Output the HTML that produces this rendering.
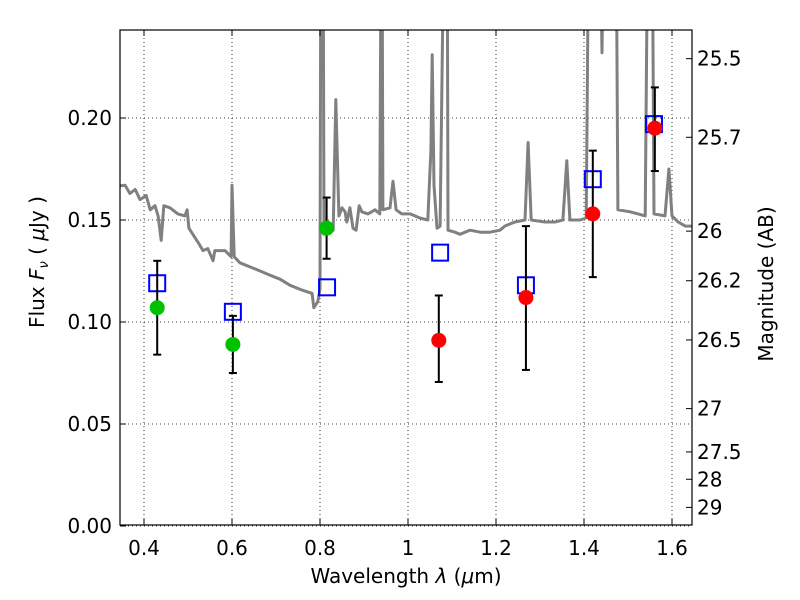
<!DOCTYPE html>
<html><head><meta charset="utf-8"><style>
html,body{margin:0;padding:0;background:#fff;}
svg{display:block;font-family:"DejaVu Sans","Liberation Sans",sans-serif;}
</style></head><body>
<svg id="chart" width="800" height="600" xmlns="http://www.w3.org/2000/svg"></svg>
<script>
const specLam=[0.345,0.357,0.368,0.380,0.391,0.405,0.414,0.425,0.432,0.439,0.445,0.459,0.477,0.493,0.498,0.502,0.523,0.534,0.545,0.557,0.561,0.584,0.598,0.600,0.605,0.618,0.641,0.664,0.686,0.709,0.732,0.755,0.782,0.786,0.795,0.800,0.802,0.807,0.809,0.816,0.823,0.830,0.836,0.843,0.850,0.857,0.861,0.868,0.875,0.882,0.889,0.895,0.909,0.925,0.936,0.939,0.941,0.943,0.959,0.966,0.973,0.986,1.005,1.027,1.045,1.052,1.055,1.059,1.066,1.073,1.082,1.089,1.091,1.107,1.118,1.141,1.164,1.186,1.209,1.220,1.243,1.266,1.273,1.280,1.311,1.334,1.352,1.361,1.368,1.391,1.405,1.411,1.436,1.441,1.445,1.473,1.477,1.505,1.539,1.545,1.555,1.559,1.584,1.593,1.600,1.614,1.630,1.645];
const specFlux=[0.1667,0.167,0.163,0.165,0.160,0.162,0.155,0.157,0.152,0.140,0.157,0.156,0.153,0.152,0.155,0.146,0.139,0.135,0.136,0.130,0.135,0.135,0.132,0.167,0.132,0.129,0.127,0.125,0.123,0.121,0.118,0.116,0.114,0.107,0.110,0.116,0.30,0.30,0.143,0.149,0.146,0.145,0.209,0.152,0.156,0.154,0.149,0.156,0.146,0.145,0.157,0.154,0.153,0.155,0.153,0.30,0.30,0.155,0.156,0.169,0.155,0.153,0.153,0.151,0.150,0.184,0.231,0.167,0.146,0.147,0.30,0.30,0.145,0.144,0.143,0.145,0.144,0.144,0.145,0.147,0.149,0.150,0.188,0.150,0.149,0.149,0.150,0.179,0.150,0.150,0.151,0.30,0.30,0.232,0.30,0.30,0.155,0.154,0.152,0.30,0.30,0.153,0.152,0.175,0.152,0.149,0.147,0.147];
const obsLam=[0.430,0.602,0.815,1.070,1.268,1.420,1.561];
const obsFlux=[0.107,0.089,0.146,0.091,0.112,0.153,0.195];
const obsHi=[0.130,0.103,0.161,0.113,0.147,0.184,0.215];
const obsLo=[0.084,0.075,0.131,0.0706,0.0765,0.122,0.174];
const obsColor=["#00c000","#00c000","#00c000","red","red","red","red"];
const modelLam=[0.430,0.602,0.816,1.073,1.268,1.420,1.559];
const modelFlux=[0.119,0.105,0.117,0.134,0.118,0.170,0.197];
const xTicks=[0.4,0.6,0.8,1.0,1.2,1.4,1.6];
const xTickLabels=["0.4","0.6","0.8","1","1.2","1.4","1.6"];
const yTicks=[0,0.05,0.10,0.15,0.20];
const yTickLabels=["0.00","0.05","0.10","0.15","0.20"];
const magTicks=[25.5,25.7,26,26.2,26.5,27,27.5,28,29];
const magTickLabels=["25.5","25.7","26","26.2","26.5","27","27.5","28","29"];

const L=120,R=692,T=30,B=525;
const X=v=>144+(v-0.4)*440;
const Y=v=>526-v*2040;
const svg=document.getElementById('chart');
const NS="http://www.w3.org/2000/svg";
function mk(tag,attrs,parent){const e=document.createElementNS(NS,tag);for(const k in attrs)e.setAttribute(k,attrs[k]);(parent||svg).appendChild(e);return e;}

const defs=mk('defs',{});
const cp=mk('clipPath',{id:'clip'},defs);
mk('rect',{x:L,y:T,width:R-L,height:B-T},cp);

const grid=mk('g',{stroke:'#000','stroke-width':0.8,'stroke-dasharray':'1,3'});


xTicks.forEach(t=>mk('line',{x1:X(t),x2:X(t),y1:T,y2:B},grid));
yTicks.forEach(t=>mk('line',{x1:L,x2:R,y1:Y(t),y2:Y(t)},grid));

const plot=mk('g',{'clip-path':'url(#clip)'});
const pts=specLam.map((l,i)=>X(l).toFixed(1)+','+Y(specFlux[i]).toFixed(1)).join(' ');
const sp=mk('polyline',{points:pts,fill:'none',stroke:'#808080','stroke-width':3,'stroke-linejoin':'round'},plot);



modelLam.forEach((l,i)=>{
  const r=mk('rect',{x:X(l)-8,y:Y(modelFlux[i])-8,width:16,height:16,fill:'none',stroke:'#0000ff','stroke-width':2},plot);
  
  
});
obsLam.forEach((l,i)=>{
  const g=mk('g',{stroke:'#000','stroke-width':2},plot);
  
  
  const x=X(l);
  mk('line',{x1:x,x2:x,y1:Y(obsHi[i]),y2:Y(obsLo[i])},g);
  mk('line',{x1:x-4,x2:x+4,y1:Y(obsHi[i]),y2:Y(obsHi[i])},g);
  mk('line',{x1:x-4,x2:x+4,y1:Y(obsLo[i]),y2:Y(obsLo[i])},g);
  const c=mk('circle',{cx:x,cy:Y(obsFlux[i]),r:7.5,fill:obsColor[i]},plot);
  
  
});

const fr=mk('rect',{x:L,y:T,width:R-L,height:B-T,fill:'none',stroke:'#000','stroke-width':1.2});



const tk=mk('g',{stroke:'#000','stroke-width':1});
xTicks.forEach(t=>{mk('line',{x1:X(t),x2:X(t),y1:B,y2:B-6},tk);mk('line',{x1:X(t),x2:X(t),y1:T,y2:T+6},tk);});
yTicks.forEach(t=>{mk('line',{x1:L,x2:L+6,y1:Y(t),y2:Y(t)},tk);});
const magY=m=>Y(Math.pow(10,(23.9-m)/2.5));
magTicks.forEach(m=>mk('line',{x1:R,x2:R-6,y1:magY(m),y2:magY(m)},tk));

xTicks.forEach((t,i)=>{const e=mk('text',{x:X(t),y:555,'font-size':20,'text-anchor':'middle'});e.textContent=xTickLabels[i];
  });
yTicks.forEach((t,i)=>{const e=mk('text',{x:112,y:Y(t)+7,'font-size':20,'text-anchor':'end'});e.textContent=yTickLabels[i];
  });
magTicks.forEach((m,i)=>{const e=mk('text',{x:697,y:magY(m)+7,'font-size':20});e.textContent=magTickLabels[i];
  });

const xl=mk('text',{x:406,y:583,'font-size':20,'text-anchor':'middle','xml:space':'preserve'});
xl.innerHTML='Wavelength  <tspan font-style="italic">λ</tspan> (<tspan font-style="italic">μ</tspan>m)';

const yl=mk('text',{x:0,y:0,'font-size':20,'text-anchor':'middle',transform:'translate(44,262) rotate(-90)','xml:space':'preserve'});
yl.innerHTML='Flux  <tspan font-style="italic">F</tspan><tspan font-style="italic" font-size="13" dy="4">ν</tspan><tspan dy="-4">  (  </tspan><tspan font-style="italic">μ</tspan>Jy )';

const ml=mk('text',{x:0,y:0,'font-size':20,'text-anchor':'middle',transform:'translate(773,284) rotate(-90)'});
ml.textContent='Magnitude (AB)';

</script>
</body></html>
